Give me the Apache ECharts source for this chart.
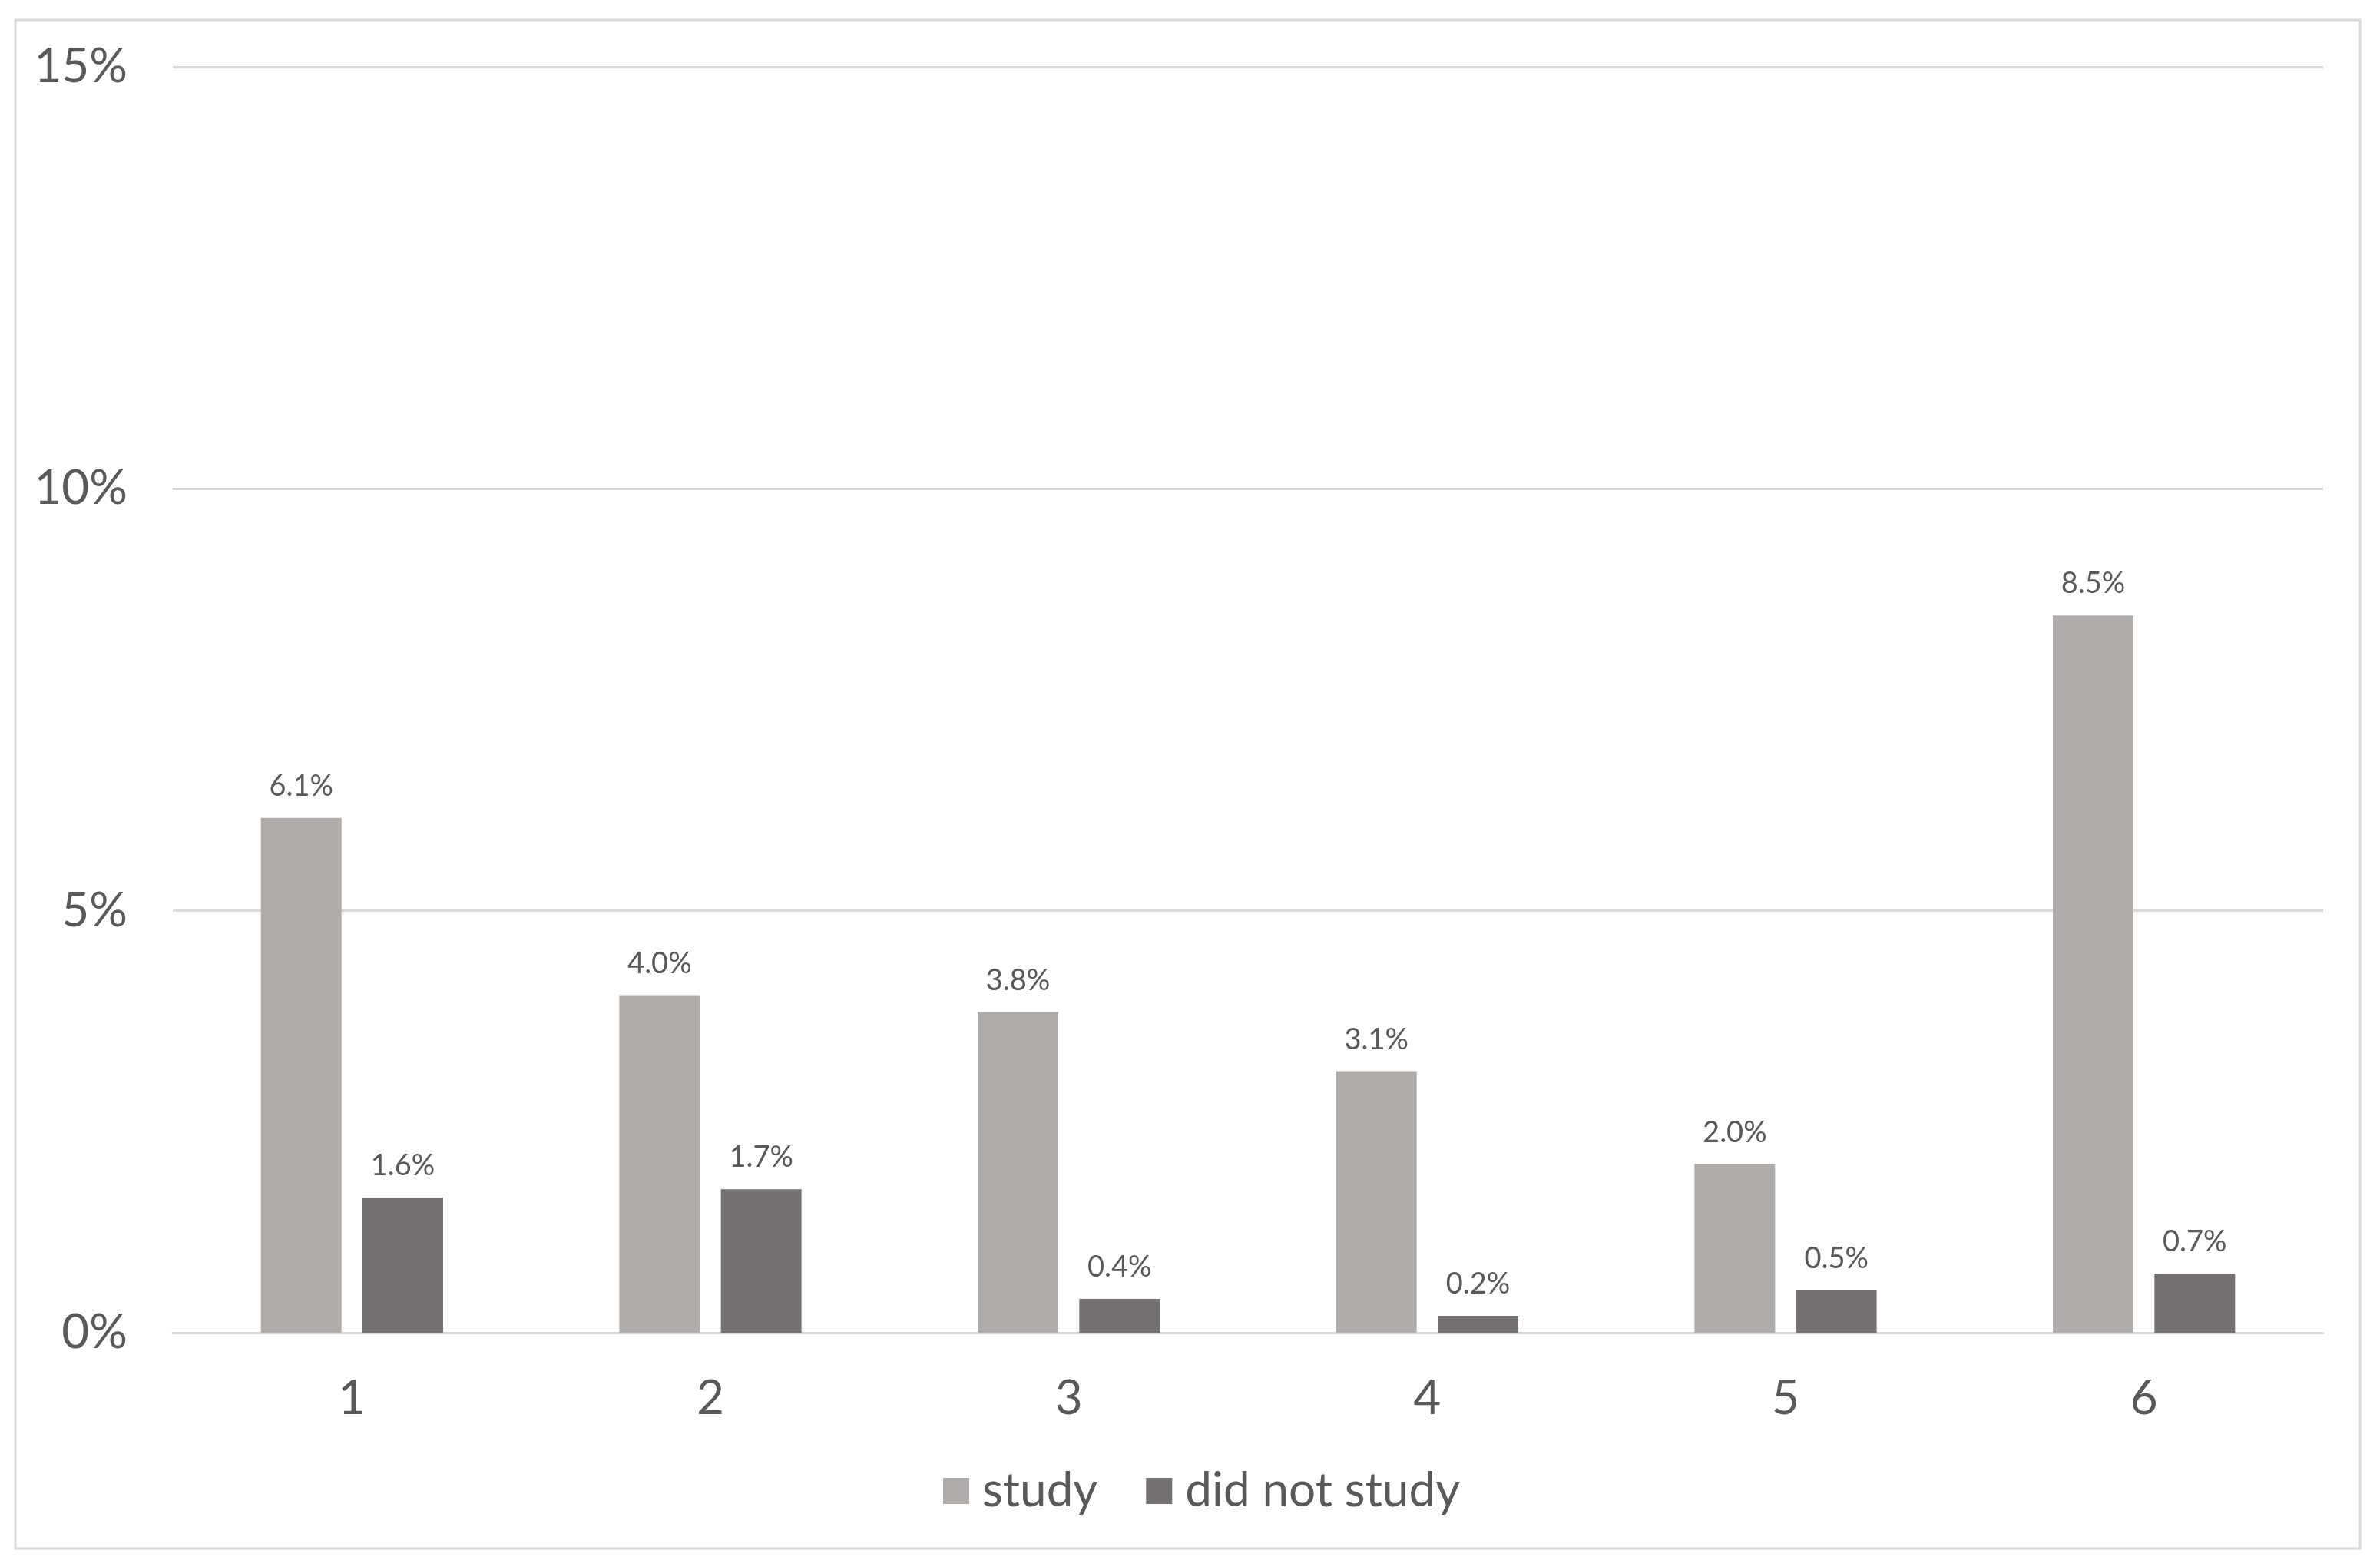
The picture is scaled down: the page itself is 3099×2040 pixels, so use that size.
<!DOCTYPE html>
<html>
<head>
<meta charset="utf-8">
<script src="https://cdn.jsdelivr.net/npm/echarts@6/dist/echarts.min.js"></script>
<style>
html,body{margin:0;padding:0;background:#fff;}
#chart{width:3099px;height:2040px;}
</style>
</head>
<body>
<div id="chart"></div>
<script>
const categories = ['1', '2', '3', '4', '5', '6'];
const studyValues = [6.1, 4.0, 3.8, 3.1, 2.0, 8.5];
const didNotStudyValues = [1.6, 1.7, 0.4, 0.2, 0.5, 0.7];
const seriesNames = ['study', 'did not study'];
const yTicks = [0, 5, 10, 15];

const FONT = 'Lato';
const chart = echarts.init(document.getElementById('chart'));
const labelCfg = {
  show: true,
  position: 'top',
  distance: 22,
  color: '#595959',
  fontFamily: FONT,
  fontSize: 38,
  formatter: p => p.value.toFixed(1) + '%'
};
chart.setOption({
  animation: false,
  backgroundColor: '#ffffff',
  textStyle: { fontFamily: FONT },
  graphic: [{
    type: 'rect',
    shape: { x: 20, y: 26, width: 3053, height: 1990 },
    style: { fill: 'none', stroke: '#d9d9d9', lineWidth: 3 },
    silent: true
  }],
  grid: { left: 225, right: 74, top: 87, bottom: 305 },
  legend: {
    data: seriesNames,
    left: 1223,
    top: 1905,
    itemWidth: 34,
    itemHeight: 34,
    itemGap: 63,
    icon: 'rect',
    textStyle: { color: '#595959', fontSize: 62, fontFamily: FONT, padding: [0, 0, 0, 12] }
  },
  xAxis: {
    type: 'category',
    data: categories,
    axisLine: { show: true, lineStyle: { color: '#d9d9d9', width: 3 } },
    axisTick: { show: false },
    axisLabel: { color: '#595959', fontSize: 62, fontFamily: FONT, margin: 55 }
  },
  yAxis: {
    type: 'value',
    min: yTicks[0],
    max: yTicks[yTicks.length - 1],
    interval: 5,
    axisLine: { show: false },
    axisTick: { show: false },
    splitLine: { lineStyle: { color: '#d9d9d9', width: 3 } },
    axisLabel: { color: '#595959', fontSize: 62, fontFamily: FONT, margin: 59, formatter: '{value}%' }
  },
  series: [
    {
      name: seriesNames[0],
      type: 'bar',
      data: studyValues,
      barWidth: '22.5%',
      barGap: '26%',
      itemStyle: { color: '#b0acaa' },
      label: labelCfg
    },
    {
      name: seriesNames[1],
      type: 'bar',
      data: didNotStudyValues,
      barWidth: '22.5%',
      itemStyle: { color: '#767171' },
      label: labelCfg
    }
  ]
});
</script>
</body>
</html>
